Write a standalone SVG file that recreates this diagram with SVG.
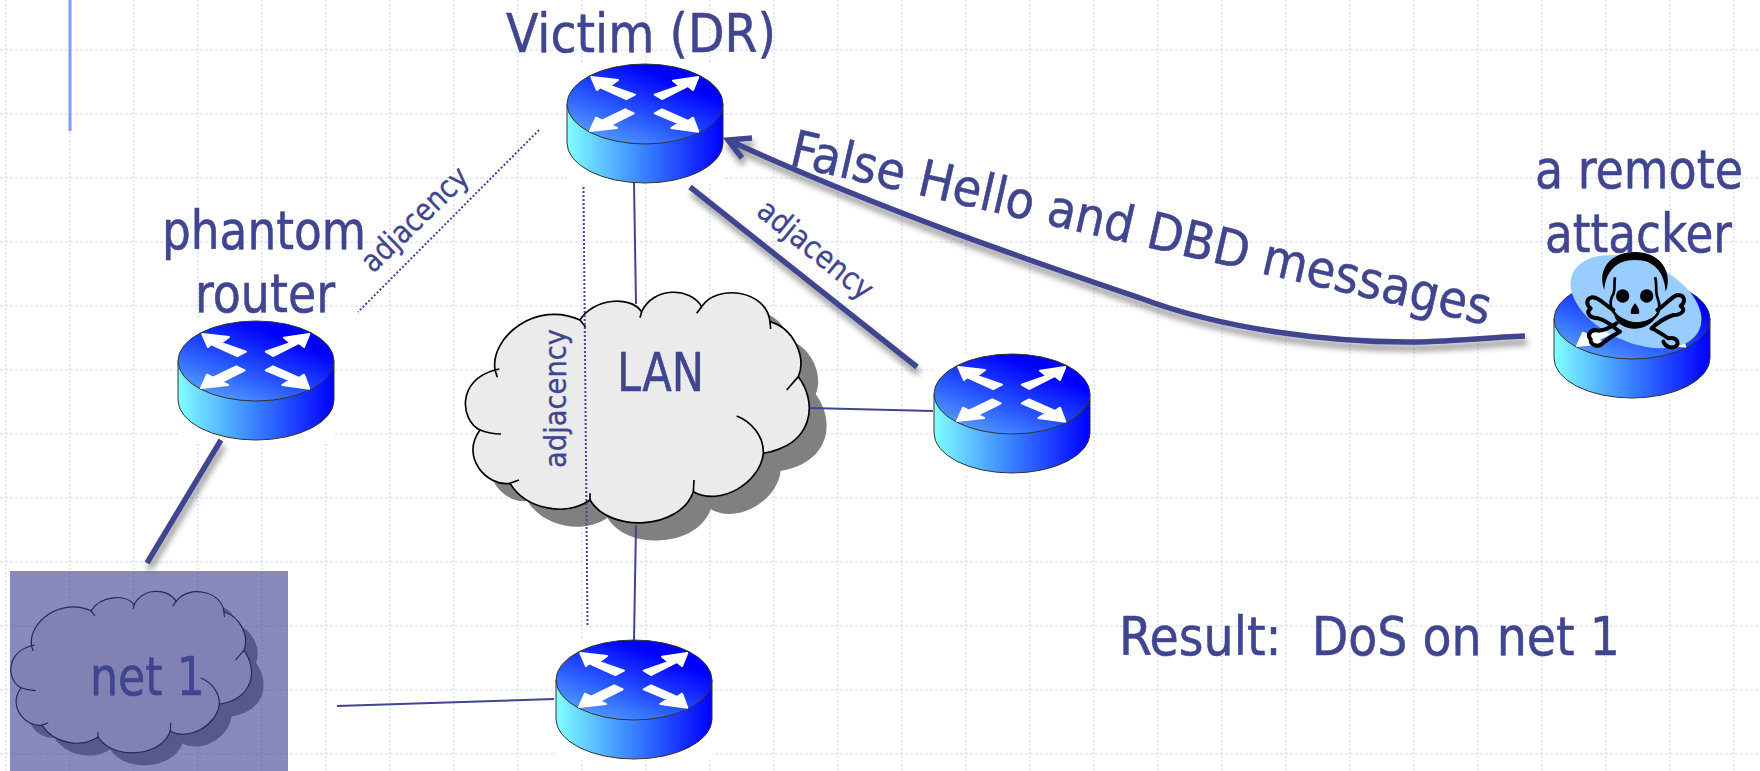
<svg xmlns="http://www.w3.org/2000/svg" width="1760" height="771" viewBox="0 0 1760 771">
<style>
text{font-family:"DejaVu Sans Condensed","DejaVu Sans","Liberation Sans",sans-serif;font-stretch:condensed;fill:#3f458f;stroke:#3f458f;stroke-width:.5}
.big{font-size:54px}
.mid{font-size:51px}
.small{font-size:31px;stroke-width:.3}
.thin{fill:none;stroke:#3f458f;stroke-width:2}
.thick{fill:none;stroke:#3f458f;stroke-width:5.500}
.dot{fill:none;stroke:#3f458f;stroke-width:2;stroke-dasharray:2 2}
.arrowshape{fill:#fff;stroke:#fff;stroke-width:2;stroke-linejoin:round}
.cl{fill:#ebebeb;stroke:#000;stroke-width:5}
.ov{fill:none;stroke:#000;stroke-width:5}
</style>
<defs>
<linearGradient id="side" x1="0" x2="1" y1="0" y2="0"><stop offset="0" stop-color="#80ffff"/><stop offset=".45" stop-color="#3f8cff"/><stop offset="1" stop-color="#0000ff"/></linearGradient>
<linearGradient id="top" x1=".1" y1=".95" x2=".68" y2=".2"><stop offset="0" stop-color="#5aa8ff"/><stop offset=".45" stop-color="#2a5cff"/><stop offset="1" stop-color="#0000ff"/></linearGradient>
<filter id="sh" filterUnits="userSpaceOnUse" x="0" y="0" width="1760" height="771"><feDropShadow dx="2" dy="6" stdDeviation="3" flood-color="#000" flood-opacity=".45"/></filter>
<g id="router">
<rect x="-78" y="-41" width="156" height="121" fill="#fff"/>
<path d="M-78 0V39A78 40 0 0 0 78 39V0Z" fill="url(#side)" stroke="#333" stroke-width="1"/>
<ellipse cx="0" cy="0" rx="78" ry="40" fill="url(#top)" stroke="#333" stroke-width="1"/>
<polygon class="arrowshape" points="-53.700,-27 -27,-24 -35,-18 -10,-9.300 -18.700,-5 -44.700,-16.700 -48,-14"/>
<polygon class="arrowshape" points="53.300,-27 48,-14 42.700,-18 17,-5 9.700,-9.300 34.700,-18 28,-23.300"/>
<polygon class="arrowshape" points="-55,27 -49,13.700 -43,16.700 -19.700,5.300 -11.300,9.300 -34.700,21 -28,24"/>
<polygon class="arrowshape" points="53.300,27.700 26.300,24 33.700,19.300 9.700,9.300 17,5.300 43,17 48,13.700"/>
</g>
<path id="cloudPath" d="M120 480C60 450 50 330 165 300C150 200 290 90 420 150C460 85 570 75 605 125C640 50 750 50 785 110C830 40 980 60 990 155C1060 175 1100 260 1075 320C1135 400 1120 525 970 550C960 640 840 710 760 665C720 780 510 790 450 690C380 740 260 720 210 640C140 650 60 560 120 480Z"/>
<g id="cloud">
<use href="#cloudPath" x="52" y="53" fill="#808080"/>
<use href="#cloudPath" class="cl"/>
<path class="ov" d="M165 300L172 322M165 300L178 297M120 480Q150 492 183 492M210 640L237 630M420 150L437 172M605 125L600 143M785 110L770 130M990 155L992 177M1075 320L1040 360M970 550C972 500 935 455 890 438M760 665L762 630M450 690L450 670"/>
</g>
</defs>
<rect width="1760" height="771" fill="#fff"/>
<g id="grid" fill="none">
<path stroke="#e3e8fd" stroke-width="2" stroke-dasharray="2 2" d="M6 0V771M70 0V771M134 0V771M198 0V771M262 0V771M326 0V771M390 0V771M454 0V771M518 0V771M582 0V771M646 0V771M710 0V771M774 0V771M838 0V771M902 0V771M966 0V771M1030 0V771M1094 0V771M1158 0V771M1222 0V771M1286 0V771M1350 0V771M1414 0V771M1478 0V771M1542 0V771M1606 0V771M1670 0V771M1734 0V771"/>
<path stroke="#e3e5fb" stroke-width="1.500" stroke-dasharray="3 2" d="M0 50H1760M0 114H1760M0 178H1760M0 242H1760M0 306H1760M0 370H1760M0 434H1760M0 498H1760M0 562H1760M0 626H1760M0 690H1760M0 754H1760"/>
<path stroke="#7f98f8" stroke-width="3" d="M70 0V131"/>
</g>
<g id="victim"><use href="#router" x="645" y="104"/></g>
<g id="phantom"><use href="#router" x="256" y="361"/></g>
<g id="router-right"><use href="#router" x="1012" y="394"/></g>
<g id="router-bottom"><use href="#router" x="634" y="680"/></g>
<g id="attacker">
<use href="#router" x="1632" y="319"/>
<g transform="translate(1570 240) scale(.3333)">
<ellipse cx="198" cy="185" rx="208" ry="122" transform="rotate(24 198 185)" fill="#99ccff"/>
<g fill="none" stroke="#000" stroke-width="12" stroke-linecap="round" stroke-linejoin="round">
<path d="M130 210C105 195 85 170 65 172C48 176 48 195 62 205C48 215 55 235 85 235C105 240 125 255 145 272"/>
<path d="M262 210C285 195 305 170 322 165C345 165 348 185 332 198C350 210 335 225 310 225C290 232 265 245 245 265"/>
<path d="M140 250C120 262 105 272 85 272C62 265 50 285 62 298C60 315 85 325 100 308C115 295 130 285 150 275"/>
<path d="M245 265C265 275 280 285 295 295C320 290 330 310 318 318C305 328 285 320 280 305"/>
</g>
<path d="M103 150C80 90 120 36 195 36C270 36 310 95 287 155C284 100 255 60 195 60C135 60 106 100 103 150Z" fill="#000"/>
<path d="M135 112C130 135 140 150 125 172C115 200 130 225 160 240C185 255 220 255 245 238C275 222 270 190 262 172C255 150 262 130 255 112" fill="none" stroke="#000" stroke-width="8"/>
<circle cx="158" cy="168" r="20" fill="#000"/>
<circle cx="230" cy="168" r="20" fill="#000"/>
<path d="M195 190C205 200 212 220 205 222H185C178 220 185 200 195 190Z" fill="#000"/>
<path d="M132 225C160 255 230 255 262 222C245 275 150 285 132 225Z" fill="#000"/>
</g>
</g>
<g id="lan"><g transform="translate(440 270) scale(.33333)"><use href="#cloud"/></g></g>
<g id="net1">
<g transform="translate(-7 575.800) scale(.23333)"><use href="#cloud"/></g>
<rect x="10" y="571" width="278" height="200" fill="#3e3e94" fill-opacity=".61"/>
</g>
<g id="connectors">
<path class="thin" d="M634 183L636 304M636 525L634 640M810 408L933 411M337 706L554 699"/>
<path class="dot" d="M539 130L358 312M583.500 187L587.500 626"/>
<path class="thick" filter="url(#sh)" d="M690 187L917 367M221 440L147 563"/>
<path class="thick" filter="url(#sh)" d="M1525 336C1480 338 1445 342 1407 342C1330 342 1225 330 1140 298C1040 264 880 210 728 140M752 138L728 140L742 158"/>
</g>
<g id="labels">
<text class="big" x="506" y="52" textLength="270" lengthAdjust="spacingAndGlyphs">Victim (DR)</text>
<text class="big" x="162" y="249" textLength="204" lengthAdjust="spacingAndGlyphs">phantom</text>
<text class="big" x="195" y="312" textLength="140" lengthAdjust="spacingAndGlyphs">router</text>
<text class="big" x="1535" y="188" textLength="208" lengthAdjust="spacingAndGlyphs">a remote</text>
<text class="big" x="1545" y="252" textLength="187" lengthAdjust="spacingAndGlyphs">attacker</text>
<text class="big" x="617" y="391" textLength="87" lengthAdjust="spacingAndGlyphs">LAN</text>
<text class="big" x="90" y="695" textLength="115" lengthAdjust="spacingAndGlyphs">net 1</text>
<text class="big" x="1119" y="655" textLength="501" lengthAdjust="spacingAndGlyphs" xml:space="preserve">Result:  DoS on net 1</text>
<text class="mid" transform="translate(788 165) rotate(12.900)" textLength="717" lengthAdjust="spacingAndGlyphs">False Hello and DBD messages</text>
<text class="small" transform="translate(566 468) rotate(-90)" textLength="139" lengthAdjust="spacingAndGlyphs">adjacency</text>
<text class="small" transform="translate(373 274) rotate(-44)" textLength="136" lengthAdjust="spacingAndGlyphs">adjacency</text>
<text class="small" transform="translate(755 214) rotate(39)" textLength="139" lengthAdjust="spacingAndGlyphs">adjacency</text>
</g>
</svg>
